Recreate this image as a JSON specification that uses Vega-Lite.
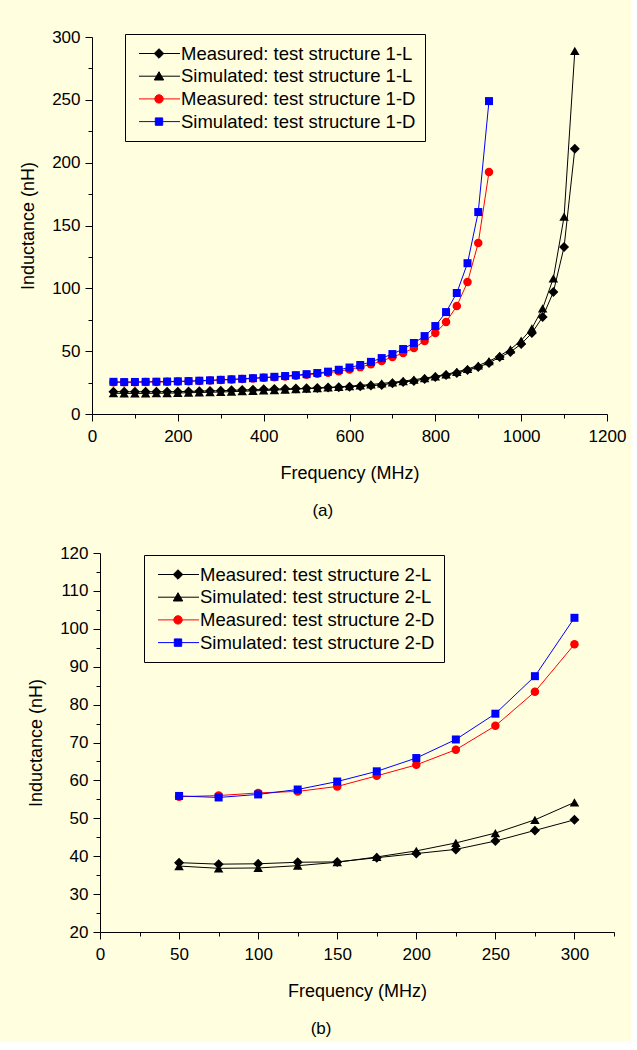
{
  "$schema": "https://vega.github.io/schema/vega-lite/v6.json",
  "background": "#FFFFE0",
  "padding": {"left": 19, "top": 28, "right": 5, "bottom": 5},
  "spacing": 25,
  "resolve": {"scale": {"fill": "independent", "stroke": "independent", "shape": "independent"}, "legend": {"fill": "independent", "stroke": "independent", "shape": "independent"}},
  "config": {
    "view": {"stroke": null},
    "font": "Liberation Sans",
    "axis": {"domainColor": "black", "domainWidth": 1, "tickColor": "black", "tickWidth": 1, "labelColor": "black", "titleColor": "black", "labelFontSize": 17, "titleFontSize": 18, "titleFontWeight": "normal", "grid": false, "labelFont": "Liberation Sans", "titleFont": "Liberation Sans", "labelFlush": false, "labelOverlap": false},
    "legend": {"labelFont": "Liberation Sans", "labelFontSize": 18.5, "labelColor": "black", "labelLimit": 500},
    "title": {"font": "Liberation Sans", "fontSize": 17, "fontWeight": "normal", "color": "black"}
  },
  "datasets": {
    "a": [
      {"f":50,"L":17.8,"s":"ML"},{"f":75,"L":17.7,"s":"ML"},{"f":100,"L":17.7,"s":"ML"},{"f":125,"L":17.7,"s":"ML"},{"f":150,"L":17.7,"s":"ML"},{"f":175,"L":17.8,"s":"ML"},{"f":200,"L":17.8,"s":"ML"},{"f":225,"L":18.0,"s":"ML"},{"f":250,"L":18.2,"s":"ML"},{"f":275,"L":18.4,"s":"ML"},{"f":300,"L":18.6,"s":"ML"},{"f":325,"L":18.8,"s":"ML"},{"f":350,"L":19.1,"s":"ML"},{"f":375,"L":19.3,"s":"ML"},{"f":400,"L":19.6,"s":"ML"},{"f":425,"L":19.8,"s":"ML"},{"f":450,"L":20.0,"s":"ML"},{"f":475,"L":20.2,"s":"ML"},{"f":500,"L":20.4,"s":"ML"},{"f":525,"L":20.7,"s":"ML"},{"f":550,"L":21.0,"s":"ML"},{"f":575,"L":21.3,"s":"ML"},{"f":600,"L":21.7,"s":"ML"},{"f":625,"L":22.1,"s":"ML"},{"f":650,"L":22.6,"s":"ML"},{"f":675,"L":23.1,"s":"ML"},{"f":700,"L":24.5,"s":"ML"},{"f":725,"L":25.5,"s":"ML"},{"f":750,"L":26.3,"s":"ML"},{"f":775,"L":27.8,"s":"ML"},{"f":800,"L":29.4,"s":"ML"},{"f":825,"L":31.0,"s":"ML"},{"f":850,"L":32.6,"s":"ML"},{"f":875,"L":35.0,"s":"ML"},{"f":900,"L":37.4,"s":"ML"},{"f":925,"L":40.6,"s":"ML"},{"f":950,"L":45.3,"s":"ML"},{"f":975,"L":49.3,"s":"ML"},{"f":1000,"L":55.7,"s":"ML"},{"f":1025,"L":64.4,"s":"ML"},{"f":1050,"L":77.2,"s":"ML"},{"f":1075,"L":97,"s":"ML"},{"f":1100,"L":132.9,"s":"ML"},{"f":1125,"L":211,"s":"ML"},
      {"f":50,"L":16.5,"s":"SL"},{"f":75,"L":16.4,"s":"SL"},{"f":100,"L":16.4,"s":"SL"},{"f":125,"L":16.4,"s":"SL"},{"f":150,"L":16.5,"s":"SL"},{"f":175,"L":16.6,"s":"SL"},{"f":200,"L":16.7,"s":"SL"},{"f":225,"L":16.9,"s":"SL"},{"f":250,"L":17.1,"s":"SL"},{"f":275,"L":17.3,"s":"SL"},{"f":300,"L":17.5,"s":"SL"},{"f":325,"L":17.8,"s":"SL"},{"f":350,"L":18.1,"s":"SL"},{"f":375,"L":18.4,"s":"SL"},{"f":400,"L":18.7,"s":"SL"},{"f":425,"L":19.0,"s":"SL"},{"f":450,"L":19.4,"s":"SL"},{"f":475,"L":19.8,"s":"SL"},{"f":500,"L":20.2,"s":"SL"},{"f":525,"L":20.6,"s":"SL"},{"f":550,"L":21.1,"s":"SL"},{"f":575,"L":21.6,"s":"SL"},{"f":600,"L":22.2,"s":"SL"},{"f":625,"L":22.8,"s":"SL"},{"f":650,"L":23.5,"s":"SL"},{"f":675,"L":24.3,"s":"SL"},{"f":700,"L":25.2,"s":"SL"},{"f":725,"L":26.2,"s":"SL"},{"f":750,"L":27.3,"s":"SL"},{"f":775,"L":28.5,"s":"SL"},{"f":800,"L":29.9,"s":"SL"},{"f":825,"L":31.6,"s":"SL"},{"f":850,"L":33.5,"s":"SL"},{"f":875,"L":35.8,"s":"SL"},{"f":900,"L":38.6,"s":"SL"},{"f":925,"L":42.0,"s":"SL"},{"f":950,"L":46.3,"s":"SL"},{"f":975,"L":51.5,"s":"SL"},{"f":1000,"L":58.5,"s":"SL"},{"f":1025,"L":68.2,"s":"SL"},{"f":1050,"L":84,"s":"SL"},{"f":1075,"L":108,"s":"SL"},{"f":1100,"L":157,"s":"SL"},{"f":1125,"L":289,"s":"SL"},
      {"f":50,"L":25.3,"s":"MD"},{"f":75,"L":25.2,"s":"MD"},{"f":100,"L":25.3,"s":"MD"},{"f":125,"L":25.4,"s":"MD"},{"f":150,"L":25.5,"s":"MD"},{"f":175,"L":25.6,"s":"MD"},{"f":200,"L":25.8,"s":"MD"},{"f":225,"L":26.0,"s":"MD"},{"f":250,"L":26.3,"s":"MD"},{"f":275,"L":26.6,"s":"MD"},{"f":300,"L":27.0,"s":"MD"},{"f":325,"L":27.4,"s":"MD"},{"f":350,"L":27.8,"s":"MD"},{"f":375,"L":28.3,"s":"MD"},{"f":400,"L":28.8,"s":"MD"},{"f":425,"L":29.3,"s":"MD"},{"f":450,"L":29.9,"s":"MD"},{"f":475,"L":30.5,"s":"MD"},{"f":500,"L":31.2,"s":"MD"},{"f":525,"L":32.0,"s":"MD"},{"f":550,"L":32.9,"s":"MD"},{"f":575,"L":34.0,"s":"MD"},{"f":600,"L":35.5,"s":"MD"},{"f":625,"L":37.3,"s":"MD"},{"f":650,"L":39.5,"s":"MD"},{"f":675,"L":42.2,"s":"MD"},{"f":700,"L":45.3,"s":"MD"},{"f":725,"L":48.5,"s":"MD"},{"f":750,"L":52.5,"s":"MD"},{"f":775,"L":58.1,"s":"MD"},{"f":800,"L":64.4,"s":"MD"},{"f":825,"L":73.2,"s":"MD"},{"f":850,"L":85.9,"s":"MD"},{"f":875,"L":105,"s":"MD"},{"f":900,"L":136,"s":"MD"},{"f":925,"L":192.5,"s":"MD"},
      {"f":50,"L":25.6,"s":"SD"},{"f":75,"L":25.4,"s":"SD"},{"f":100,"L":25.5,"s":"SD"},{"f":125,"L":25.6,"s":"SD"},{"f":150,"L":25.7,"s":"SD"},{"f":175,"L":25.8,"s":"SD"},{"f":200,"L":26.0,"s":"SD"},{"f":225,"L":26.2,"s":"SD"},{"f":250,"L":26.5,"s":"SD"},{"f":275,"L":26.8,"s":"SD"},{"f":300,"L":27.2,"s":"SD"},{"f":325,"L":27.6,"s":"SD"},{"f":350,"L":28.0,"s":"SD"},{"f":375,"L":28.5,"s":"SD"},{"f":400,"L":29.0,"s":"SD"},{"f":425,"L":29.6,"s":"SD"},{"f":450,"L":30.2,"s":"SD"},{"f":475,"L":30.9,"s":"SD"},{"f":500,"L":31.7,"s":"SD"},{"f":525,"L":32.6,"s":"SD"},{"f":550,"L":33.7,"s":"SD"},{"f":575,"L":35.2,"s":"SD"},{"f":600,"L":37.0,"s":"SD"},{"f":625,"L":39.0,"s":"SD"},{"f":650,"L":41.5,"s":"SD"},{"f":675,"L":44.5,"s":"SD"},{"f":700,"L":47.7,"s":"SD"},{"f":725,"L":51.7,"s":"SD"},{"f":750,"L":56.5,"s":"SD"},{"f":775,"L":62.0,"s":"SD"},{"f":800,"L":70.0,"s":"SD"},{"f":825,"L":81.1,"s":"SD"},{"f":850,"L":96.3,"s":"SD"},{"f":875,"L":120,"s":"SD"},{"f":900,"L":160.7,"s":"SD"},{"f":925,"L":249,"s":"SD"}
    ],
    "b": [
      {"f":50,"L":38.3,"s":"ML"},{"f":75,"L":37.9,"s":"ML"},{"f":100,"L":38.0,"s":"ML"},{"f":125,"L":38.4,"s":"ML"},{"f":150,"L":38.5,"s":"ML"},{"f":175,"L":39.6,"s":"ML"},{"f":200,"L":40.7,"s":"ML"},{"f":225,"L":41.8,"s":"ML"},{"f":250,"L":44.0,"s":"ML"},{"f":275,"L":46.8,"s":"ML"},{"f":300,"L":49.6,"s":"ML"},
      {"f":50,"L":37.4,"s":"SL"},{"f":75,"L":36.8,"s":"SL"},{"f":100,"L":36.9,"s":"SL"},{"f":125,"L":37.5,"s":"SL"},{"f":150,"L":38.4,"s":"SL"},{"f":175,"L":39.8,"s":"SL"},{"f":200,"L":41.4,"s":"SL"},{"f":225,"L":43.5,"s":"SL"},{"f":250,"L":46.1,"s":"SL"},{"f":275,"L":49.6,"s":"SL"},{"f":300,"L":54.2,"s":"SL"},
      {"f":50,"L":55.7,"s":"MD"},{"f":75,"L":56.0,"s":"MD"},{"f":100,"L":56.7,"s":"MD"},{"f":125,"L":57.1,"s":"MD"},{"f":150,"L":58.4,"s":"MD"},{"f":175,"L":61.2,"s":"MD"},{"f":200,"L":64.1,"s":"MD"},{"f":225,"L":68.1,"s":"MD"},{"f":250,"L":74.4,"s":"MD"},{"f":275,"L":83.4,"s":"MD"},{"f":300,"L":95.9,"s":"MD"},
      {"f":50,"L":55.9,"s":"SD"},{"f":75,"L":55.5,"s":"SD"},{"f":100,"L":56.3,"s":"SD"},{"f":125,"L":57.6,"s":"SD"},{"f":150,"L":59.7,"s":"SD"},{"f":175,"L":62.4,"s":"SD"},{"f":200,"L":65.9,"s":"SD"},{"f":225,"L":70.8,"s":"SD"},{"f":250,"L":77.6,"s":"SD"},{"f":275,"L":87.5,"s":"SD"},{"f":300,"L":102.9,"s":"SD"}
    ]
  },
  "vconcat": [
    {
      "data": {"name": "a"},
      "width": 515,
      "height": 377,
      "title": {"text": "(a)", "orient": "bottom", "anchor": "middle", "frame": "bounds", "offset": 21},
      "encoding": {
        "x": {"field": "f", "type": "quantitative", "scale": {"domain": [0, 1200], "nice": false, "zero": false},
          "axis": {"values": [0,100,200,300,400,500,600,700,800,900,1000,1100,1200], "labelExpr": "datum.value % 200 === 0 ? '' + datum.value : ''", "tickSize": {"condition": {"test": "datum.value % 200 === 0", "value": 7}, "value": 4}, "labelPadding": 7, "title": "Frequency (MHz)", "titlePadding": 20}},
        "y": {"field": "L", "type": "quantitative", "scale": {"domain": [0, 300], "nice": false},
          "axis": {"values": [0,25,50,75,100,125,150,175,200,225,250,275,300], "labelExpr": "datum.value % 50 === 0 ? '' + datum.value : ''", "tickSize": {"condition": {"test": "datum.value % 50 === 0", "value": 7}, "value": 4}, "labelPadding": 5, "title": "Inductance (nH)", "titlePadding": 14}}
      },
      "layer": [
        {"transform": [{"filter": "datum.s === 'ML'"}], "mark": {"type": "line", "color": "black", "strokeWidth": 1, "point": {"shape": "diamond", "filled": true, "size": 100, "color": "black", "opacity": 1}}},
        {"transform": [{"filter": "datum.s === 'SL'"}], "mark": {"type": "line", "color": "black", "strokeWidth": 1, "point": {"shape": "triangle-up", "filled": true, "size": 90, "color": "black", "opacity": 1}}},
        {"transform": [{"filter": "datum.s === 'MD'"}], "mark": {"type": "line", "color": "#FF0000", "strokeWidth": 1, "point": {"shape": "circle", "filled": true, "size": 72, "color": "#FF0000", "opacity": 1}}},
        {"transform": [{"filter": "datum.s === 'SD'"}], "mark": {"type": "line", "color": "#0000FF", "strokeWidth": 1, "point": {"shape": "square", "filled": true, "size": 64, "color": "#0000FF", "opacity": 1}}},
        {"transform": [{"filter": "datum.f < 0"}], "mark": {"type": "point", "filled": true, "opacity": 1, "strokeWidth": 1},
          "encoding": {
            "fill": {"field": "s", "type": "nominal", "scale": {"domain": ["Measured: test structure 1-L","Simulated: test structure 1-L","Measured: test structure 1-D","Simulated: test structure 1-D"], "range": ["black","black","#FF0000","#0000FF"]},
              "legend": {"orient": "none", "legendX": 33, "legendY": -3, "title": null, "padding": 9, "strokeColor": "black", "fillColor": "#FFFFE0", "symbolSize": 400, "symbolStrokeWidth": 1, "labelOffset": 26, "rowPadding": 2.7, "symbolOpacity": 1}},
            "stroke": {"field": "s", "type": "nominal", "scale": {"domain": ["Measured: test structure 1-L","Simulated: test structure 1-L","Measured: test structure 1-D","Simulated: test structure 1-D"], "range": ["black","black","#FF0000","#0000FF"]},
              "legend": {"orient": "none", "legendX": 33, "legendY": -3, "title": null, "padding": 9, "strokeColor": "black", "fillColor": "#FFFFE0", "symbolSize": 400, "symbolStrokeWidth": 1, "labelOffset": 26, "rowPadding": 2.7, "symbolOpacity": 1}},
            "shape": {"field": "s", "type": "nominal", "scale": {"domain": ["Measured: test structure 1-L","Simulated: test structure 1-L","Measured: test structure 1-D","Simulated: test structure 1-D"], "range": [
              "M-1.05,0M-0.55,0H3.55M1.45,-0.48L1.93,0L1.45,0.48L0.97,0Z",
              "M-1.05,0M-0.55,0H3.55M1.45,-0.45L1.92,0.38L0.98,0.38Z",
              "M-1.05,0M-0.55,0H3.55M1.03,0A0.42,0.42,0,1,1,1.87,0A0.42,0.42,0,1,1,1.03,0Z",
              "M-1.05,0M-0.55,0H3.55M1.08,-0.37H1.82V0.37H1.08Z"]},
              "legend": {"orient": "none", "legendX": 33, "legendY": -3, "title": null, "padding": 9, "strokeColor": "black", "fillColor": "#FFFFE0", "symbolSize": 400, "symbolStrokeWidth": 1, "labelOffset": 26, "rowPadding": 2.7, "symbolOpacity": 1}}
          }
        }
      ]
    },
    {
      "data": {"name": "b"},
      "width": 522,
      "height": 379,
      "title": {"text": "(b)", "orient": "bottom", "anchor": "middle", "frame": "bounds", "offset": 21},
      "encoding": {
        "x": {"field": "f", "type": "quantitative", "scale": {"domain": [0, 325], "nice": false, "zero": false, "range": [8, 522]},
          "axis": {"values": [0,25,50,75,100,125,150,175,200,225,250,275,300,325], "labelExpr": "datum.value % 50 === 0 ? '' + datum.value : ''", "tickSize": {"condition": {"test": "datum.value % 50 === 0", "value": 7}, "value": 4}, "labelPadding": 7, "title": "Frequency (MHz)", "titlePadding": 20}},
        "y": {"field": "L", "type": "quantitative", "scale": {"domain": [20, 120], "nice": false, "zero": false},
          "axis": {"offset": -8, "values": [20,25,30,35,40,45,50,55,60,65,70,75,80,85,90,95,100,105,110,115,120], "labelExpr": "datum.value % 10 === 0 ? '' + datum.value : ''", "tickSize": {"condition": {"test": "datum.value % 10 === 0", "value": 7}, "value": 4}, "labelPadding": 5, "title": "Inductance (nH)", "titlePadding": 14}}
      },
      "layer": [
        {"transform": [{"filter": "datum.s === 'ML'"}], "mark": {"type": "line", "color": "black", "strokeWidth": 1, "point": {"shape": "diamond", "filled": true, "size": 100, "color": "black", "opacity": 1}}},
        {"transform": [{"filter": "datum.s === 'SL'"}], "mark": {"type": "line", "color": "black", "strokeWidth": 1, "point": {"shape": "triangle-up", "filled": true, "size": 90, "color": "black", "opacity": 1}}},
        {"transform": [{"filter": "datum.s === 'MD'"}], "mark": {"type": "line", "color": "#FF0000", "strokeWidth": 1, "point": {"shape": "circle", "filled": true, "size": 72, "color": "#FF0000", "opacity": 1}}},
        {"transform": [{"filter": "datum.s === 'SD'"}], "mark": {"type": "line", "color": "#0000FF", "strokeWidth": 1, "point": {"shape": "square", "filled": true, "size": 64, "color": "#0000FF", "opacity": 1}}},
        {"transform": [{"filter": "datum.f < 0"}], "mark": {"type": "point", "filled": true, "opacity": 1, "strokeWidth": 1},
          "encoding": {
            "fill": {"field": "s", "type": "nominal", "scale": {"domain": ["Measured: test structure 2-L","Simulated: test structure 2-L","Measured: test structure 2-D","Simulated: test structure 2-D"], "range": ["black","black","#FF0000","#0000FF"]},
              "legend": {"orient": "none", "legendX": 52, "legendY": 2, "title": null, "padding": 9, "strokeColor": "black", "fillColor": "#FFFFE0", "symbolSize": 400, "symbolStrokeWidth": 1, "labelOffset": 26, "rowPadding": 2.7, "symbolOpacity": 1}},
            "stroke": {"field": "s", "type": "nominal", "scale": {"domain": ["Measured: test structure 2-L","Simulated: test structure 2-L","Measured: test structure 2-D","Simulated: test structure 2-D"], "range": ["black","black","#FF0000","#0000FF"]},
              "legend": {"orient": "none", "legendX": 52, "legendY": 2, "title": null, "padding": 9, "strokeColor": "black", "fillColor": "#FFFFE0", "symbolSize": 400, "symbolStrokeWidth": 1, "labelOffset": 26, "rowPadding": 2.7, "symbolOpacity": 1}},
            "shape": {"field": "s", "type": "nominal", "scale": {"domain": ["Measured: test structure 2-L","Simulated: test structure 2-L","Measured: test structure 2-D","Simulated: test structure 2-D"], "range": [
              "M-1.05,0M-0.55,0H3.55M1.45,-0.48L1.93,0L1.45,0.48L0.97,0Z",
              "M-1.05,0M-0.55,0H3.55M1.45,-0.45L1.92,0.38L0.98,0.38Z",
              "M-1.05,0M-0.55,0H3.55M1.03,0A0.42,0.42,0,1,1,1.87,0A0.42,0.42,0,1,1,1.03,0Z",
              "M-1.05,0M-0.55,0H3.55M1.08,-0.37H1.82V0.37H1.08Z"]},
              "legend": {"orient": "none", "legendX": 52, "legendY": 2, "title": null, "padding": 9, "strokeColor": "black", "fillColor": "#FFFFE0", "symbolSize": 400, "symbolStrokeWidth": 1, "labelOffset": 26, "rowPadding": 2.7, "symbolOpacity": 1}}
          }
        }
      ]
    }
  ]
}
